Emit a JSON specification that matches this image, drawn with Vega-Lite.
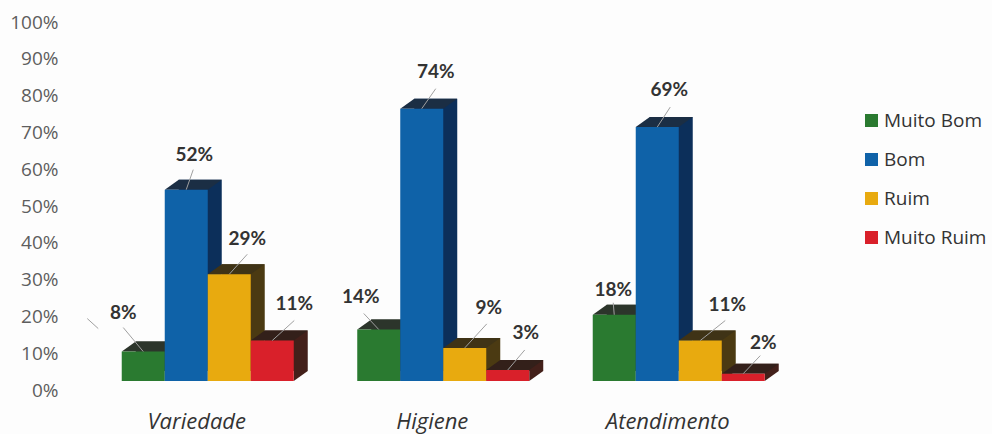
{"$schema":"https://vega.github.io/schema/vega-lite/v6.json","width":706.5,"height":368,"autosize":{"type":"none"},"padding":{"left":90,"top":22,"right":195.5,"bottom":44},"background":"#fdfdfd","config":{"view":{"stroke":null},"font":"Lato"},
"data":{"values":[
{"id":"a1","cat":"Variedade","ser":"Muito Bom","v":0.08},{"id":"a2","cat":"Variedade","ser":"Bom","v":0.52},{"id":"a3","cat":"Variedade","ser":"Ruim","v":0.29},{"id":"a4","cat":"Variedade","ser":"Muito Ruim","v":0.11},
{"id":"b1","cat":"Higiene","ser":"Muito Bom","v":0.14},{"id":"b2","cat":"Higiene","ser":"Bom","v":0.74},{"id":"b3","cat":"Higiene","ser":"Ruim","v":0.09},{"id":"b4","cat":"Higiene","ser":"Muito Ruim","v":0.03},
{"id":"c1","cat":"Atendimento","ser":"Muito Bom","v":0.18},{"id":"c2","cat":"Atendimento","ser":"Bom","v":0.69},{"id":"c3","cat":"Atendimento","ser":"Ruim","v":0.11},{"id":"c4","cat":"Atendimento","ser":"Muito Ruim","v":0.02}]},
"encoding":{
"x":{"field":"cat","type":"nominal","sort":["Variedade","Higiene","Atendimento"],"title":null,"scale":{"paddingInner":0.2696,"paddingOuter":0.1348},"axis":{"domain":false,"ticks":false,"labelAngle":0,"labelOffset":-11,"labelPadding":21,"labelFontSize":22,"labelFontStyle":"italic","labelColor":"#333333","labelFont":"Open Sans"}},
"xOffset":{"field":"ser","type":"nominal","sort":["Muito Bom","Bom","Ruim","Muito Ruim"],"scale":{"type":"band","domain":["Muito Bom","Bom","Ruim","Muito Ruim"],"paddingInner":0,"paddingOuter":0}},
"y":{"field":"v","type":"quantitative","stack":null,"title":null,"scale":{"domain":[0,1],"nice":false},"axis":{"domain":false,"ticks":false,"grid":false,"format":".0%","values":[0,0.1,0.2,0.3,0.4,0.5,0.6,0.7,0.8,0.9,1],"labelPadding":32,"labelFontSize":19,"labelColor":"#5e5e5e","labelFont":"Open Sans"}}},
"resolve":{"scale":{"color":"independent","xOffset":"independent"}},
"layer":[
{"mark":{"type":"bar","yOffset":-19,"y2Offset":-19},"encoding":{"xOffset":{"field":"ser","type":"nominal","sort":["Muito Bom","Bom","Ruim","Muito Ruim"],"scale":{"type":"band","domain":["Muito Bom","Bom","Ruim","Muito Ruim"],"range":[14,186],"paddingInner":0,"paddingOuter":0}},"y2":{"datum":0},"color":{"field":"ser","type":"nominal","legend":null,"scale":{"domain":["Muito Bom","Bom","Ruim","Muito Ruim"],"range":["#2e3a2e","#0c2f5a","#4b3a12","#43201a"]}}}},
{"mark":{"type":"point","filled":true,"opacity":1,"size":4,"yOffset":-9,"strokeWidth":0,"shape":"M21.5,0L35.5,-10L21.5,-10Z"},"encoding":{"y":{"datum":0,"type":"quantitative"},"color":{"field":"ser","type":"nominal","legend":null,"scale":{"domain":["Muito Bom","Bom","Ruim","Muito Ruim"],"range":["#2e3a2e","#0c2f5a","#4b3a12","#43201a"]}}}},
{"mark":{"type":"point","filled":true,"opacity":1,"size":4,"yOffset":-9,"strokeWidth":0,"shape":"M-21.5,0L-7.5,-10L35.5,-10L21.5,0Z"},"encoding":{"color":{"field":"ser","type":"nominal","legend":null,"scale":{"domain":["Muito Bom","Bom","Ruim","Muito Ruim"],"range":["#2c352b","#1b2e44","#3f3316","#33201a"]}}}},
{"mark":{"type":"bar","yOffset":-9,"y2Offset":-9},"encoding":{"y2":{"datum":0},"color":{"field":"ser","type":"nominal","title":null,"scale":{"domain":["Muito Bom","Bom","Ruim","Muito Ruim"],"range":["#2a7a30","#0f62a8","#e8aa0f","#d9202a"]},"legend":{"orient":"none","legendX":772,"legendY":89,"symbolType":"square","symbolSize":169,"symbolStrokeWidth":0,"labelFontSize":19,"labelColor":"#333333","labelFont":"Open Sans","rowPadding":19,"labelOffset":3}}}},
{"mark":{"type":"point","filled":false,"opacity":1,"size":4,"yOffset":-9,"stroke":"#a0a0a0","strokeWidth":1},"encoding":{"shape":{"field":"id","type":"nominal","legend":null,"scale":{"domain":["a1","a2","a3","a4","b1","b2","b3","b4","c1","c2","c3","c4"],"range":["M0,0L-20,-24M-56,-33L-45,-23","M0,0L7,-20","M0,0L18,-20","M0,0L22,-20","M0,0L-15,-16","M0,0L14,-20","M0,0L22,-24","M0,0L17,-20","M0,0L-1,-12","M0,0L13,-20","M0,0L25,-20","M0,0L17,-18"]}}}},
{"transform":[{"filter":"datum.id=='a1'"}],"mark":{"type":"text","dx":-20,"dy":-48,"fontSize":19,"fontWeight":"bold","color":"#333333"},"encoding":{"text":{"field":"v","format":".0%"}}},
{"transform":[{"filter":"datum.id=='a2'"}],"mark":{"type":"text","dx":8,"dy":-44,"fontSize":19,"fontWeight":"bold","color":"#333333"},"encoding":{"text":{"field":"v","format":".0%"}}},
{"transform":[{"filter":"datum.id=='a3'"}],"mark":{"type":"text","dx":18,"dy":-44,"fontSize":19,"fontWeight":"bold","color":"#333333"},"encoding":{"text":{"field":"v","format":".0%"}}},
{"transform":[{"filter":"datum.id=='a4'"}],"mark":{"type":"text","dx":22,"dy":-46,"fontSize":19,"fontWeight":"bold","color":"#333333"},"encoding":{"text":{"field":"v","format":".0%"}}},
{"transform":[{"filter":"datum.id=='b1'"}],"mark":{"type":"text","dx":-18,"dy":-41,"fontSize":19,"fontWeight":"bold","color":"#333333"},"encoding":{"text":{"field":"v","format":".0%"}}},
{"transform":[{"filter":"datum.id=='b2'"}],"mark":{"type":"text","dx":14,"dy":-46,"fontSize":19,"fontWeight":"bold","color":"#333333"},"encoding":{"text":{"field":"v","format":".0%"}}},
{"transform":[{"filter":"datum.id=='b3'"}],"mark":{"type":"text","dx":24,"dy":-49,"fontSize":19,"fontWeight":"bold","color":"#333333"},"encoding":{"text":{"field":"v","format":".0%"}}},
{"transform":[{"filter":"datum.id=='b4'"}],"mark":{"type":"text","dx":18,"dy":-46,"fontSize":19,"fontWeight":"bold","color":"#333333"},"encoding":{"text":{"field":"v","format":".0%"}}},
{"transform":[{"filter":"datum.id=='c1'"}],"mark":{"type":"text","dx":-1,"dy":-34,"fontSize":19,"fontWeight":"bold","color":"#333333"},"encoding":{"text":{"field":"v","format":".0%"}}},
{"transform":[{"filter":"datum.id=='c2'"}],"mark":{"type":"text","dx":12,"dy":-46,"fontSize":19,"fontWeight":"bold","color":"#333333"},"encoding":{"text":{"field":"v","format":".0%"}}},
{"transform":[{"filter":"datum.id=='c3'"}],"mark":{"type":"text","dx":27,"dy":-45,"fontSize":19,"fontWeight":"bold","color":"#333333"},"encoding":{"text":{"field":"v","format":".0%"}}},
{"transform":[{"filter":"datum.id=='c4'"}],"mark":{"type":"text","dx":20,"dy":-40,"fontSize":19,"fontWeight":"bold","color":"#333333"},"encoding":{"text":{"field":"v","format":".0%"}}}
]}
